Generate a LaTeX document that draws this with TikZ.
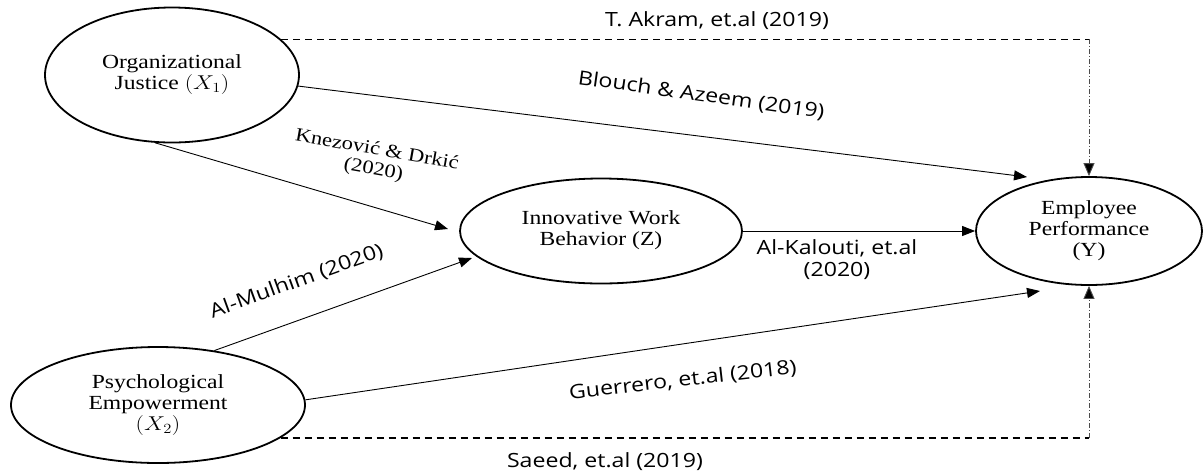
\RequirePackage{fix-cm}
\documentclass[tikz,border=0pt]{standalone}
\usepackage{graphicx}
\usepackage{fontspec}
\setmainfont{Liberation Serif}
\newfontfamily\labfont{Open Sans}
\usetikzlibrary{shapes.geometric,arrows.meta}
\newcommand\mywide[1]{\scalebox{1.18}[1]{\begin{tabular}{@{}c@{}}#1\end{tabular}}}
\begin{document}
\begin{tikzpicture}[x=1pt,y=-1pt,
  var/.style={ellipse, draw, line width=1.8pt, inner sep=0pt, font=\fontsize{20}{21}\selectfont},
  lab/.style={inner sep=0pt, font=\labfont\fontsize{19.6}{22}\selectfont},
  cite/.style={inner sep=0pt, font=\fontsize{19}{20}\selectfont},
  conn/.style={line width=0.9pt, -{Triangle[length=13pt,width=10pt]}},
  dashline/.style={line width=1.4pt, dash pattern=on 7pt off 5pt},
  dotline/.style={line width=0.9pt, draw=black!70, dash pattern=on 5pt off 2pt on 1pt off 2pt,
    -{Triangle[length=13pt,width=11pt,fill=black]}}]
\fill[white] (0,0) rectangle (1203,475);
\useasboundingbox (0,0) rectangle (1203,475);

\node[var, minimum width=254pt, minimum height=135pt] (X1) at (172,75)
  {\mywide{Organizational\\Justice $(X_1)$}};
\node[var, minimum width=294pt, minimum height=116pt] (X2) at (158,405)
  {\mywide{Psychological\\Empowerment\\$(X_2)$}};
\node[var, minimum width=282pt, minimum height=105pt] (Z) at (601,231)
  {\mywide{Innovative Work\\Behavior (Z)}};
\node[var, minimum width=226pt, minimum height=108pt] (Y) at (1089,231)
  {\mywide{Employee\\Performance\\(Y)}};

\coordinate (tB) at (1027,177);
\coordinate (tK) at (448,229);
\coordinate (tM) at (472,258);
\coordinate (tG) at (1040,291);
\coordinate (ctop) at (Y.north |- X1.18);
\coordinate (cbot) at (Y.south |- X2.-15);

\draw[conn] (X1.-5) -- (tB);
\draw[conn] (X1.-104) -- (tK);
\draw[conn] (X2.44) -- (tM);
\draw[conn] (Z.east) -- (Y.west);
\draw[conn] (X2.2) -- (tG);
\draw[dashline] (X1.18) -- (ctop);
\draw[dotline] (ctop) -- (Y.north);
\draw[dashline] (X2.-15) -- (cbot);
\draw[dotline] (cbot) -- (Y.south);

\node[lab] (lA) at (717,22) {\mywide{T. Akram, et.al (2019)}};
\node[lab, rotate=-8] (lB) at (701,97) {\mywide{Blouch \& Azeem (2019)}};
\node[cite, rotate=-10] (lK) at (375,161) {\mywide{Knezović \& Drkić\\(2020)}};
\node[lab, rotate=20] (lM) at (297,283) {\mywide{Al-Mulhim (2020)}};
\node[lab] (lKa) at (837,261) {\mywide{Al-Kalouti, et.al\\(2020)}};
\node[lab, rotate=6.5] (lG) at (683,382) {\mywide{Guerrero, et.al (2018)}};
\node[lab] (lS) at (605,463) {\mywide{Saeed, et.al (2019)}};
\end{tikzpicture}
\end{document}
